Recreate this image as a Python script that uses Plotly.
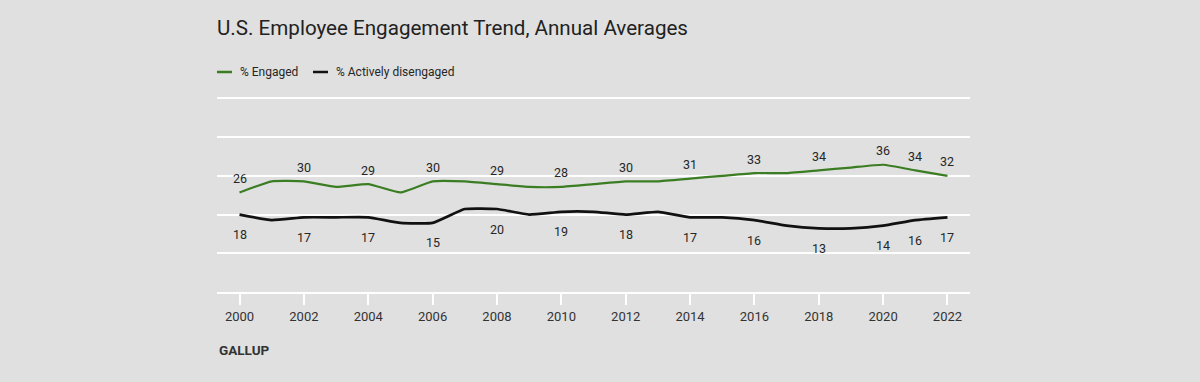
import plotly.graph_objects as go

# ---- data ----
years = list(range(2000, 2023))
engaged = [26, 30, 30, 28, 29, 26, 30, 30, 29, 28, 28, 29, 30, 30, 31, 32, 33, 33, 34, 35, 36, 34, 32]
disengaged = [18, 16, 17, 17, 17, 15, 15, 20, 20, 18, 19, 19, 18, 19, 17, 17, 16, 14, 13, 13, 14, 16, 17]
label_years = [2000, 2002, 2004, 2006, 2008, 2010, 2012, 2014, 2016, 2018, 2020, 2021, 2022]
tick_years = list(range(2000, 2023, 2))
series_names = ["% Engaged", "% Actively disengaged"]
title_text = "U.S. Employee Engagement Trend, Annual Averages"
source_text = "GALLUP"

# ---- style ----
W, H = 1200, 382
BG = "#e0e0e0"
GREEN = "#3b7d23"
BLACK = "#111111"
TXT = "#262626"
FONT = "Roboto"
PL, PR, PT, PB = 217, 970, 97, 292  # plot area in pixels


def px_x(p):
    return (p - PL) / (PR - PL)


def px_y(p):
    return (PB - p) / (PB - PT)


fig = go.Figure()
fig.add_trace(go.Scatter(x=years, y=engaged, mode="lines", name=series_names[0],
                         line=dict(color=GREEN, width=2.2, shape="spline", smoothing=0.4),
                         hoverinfo="skip"))
fig.add_trace(go.Scatter(x=years, y=disengaged, mode="lines", name=series_names[1],
                         line=dict(color=BLACK, width=2.7, shape="spline", smoothing=0.4),
                         hoverinfo="skip"))

annotations = []
for yr in label_years:
    i = years.index(yr)
    annotations.append(dict(x=yr, y=engaged[i], text=str(engaged[i]), showarrow=False,
                            yshift=14, font=dict(family=FONT, size=12.5, color=TXT)))
    annotations.append(dict(x=yr, y=disengaged[i], text=str(disengaged[i]), showarrow=False,
                            yshift=-20, font=dict(family=FONT, size=12.5, color=TXT)))

# custom legend
shapes = []
legend_items = [(series_names[0], GREEN, 217, 238), (series_names[1], BLACK, 313, 334)]
for name, col, x0, tx in legend_items:
    shapes.append(dict(type="line", xref="paper", yref="paper",
                       x0=px_x(x0), x1=px_x(x0 + 15), y0=px_y(72), y1=px_y(72),
                       line=dict(color=col, width=2.5)))
    annotations.append(dict(xref="paper", yref="paper", x=px_x(tx), y=px_y(72),
                            xanchor="left", yanchor="middle", showarrow=False, text=name,
                            font=dict(family=FONT, size=12, color=TXT)))

annotations.append(dict(xref="paper", yref="paper", x=0, y=px_y(350), xanchor="left",
                        yanchor="middle", showarrow=False, text=source_text,
                        font=dict(family=FONT, size=13.5, color="#333333", weight=700)))

fig.update_layout(
    width=W, height=H,
    paper_bgcolor=BG, plot_bgcolor=BG,
    margin=dict(l=PL, r=W - PR, t=PT, b=H - PB, pad=0),
    showlegend=False,
    hovermode=False,
    title=dict(text=title_text, x=PL / W, xref="container", xanchor="left",
               y=1 - 28 / H, yref="container", yanchor="middle",
               font=dict(family=FONT, size=20.6, color="#222222")),
    annotations=annotations,
    shapes=shapes,
    xaxis=dict(range=[1999.3, 2022.7], tickvals=tick_years, showgrid=False, zeroline=False,
               ticks="outside", ticklen=11, tickwidth=2, tickcolor="white",
               showline=True, linecolor="white", linewidth=2,
               tickfont=dict(family=FONT, size=13, color="#333333")),
    yaxis=dict(range=[-10, 60.5], tick0=4, dtick=14, showticklabels=False,
               showgrid=True, gridcolor="white", gridwidth=2, zeroline=False),
)

fig.write_html("out.html", config={"displayModeBar": False},
               post_script="document.body.style.margin='0';document.body.style.background='#e0e0e0';")
